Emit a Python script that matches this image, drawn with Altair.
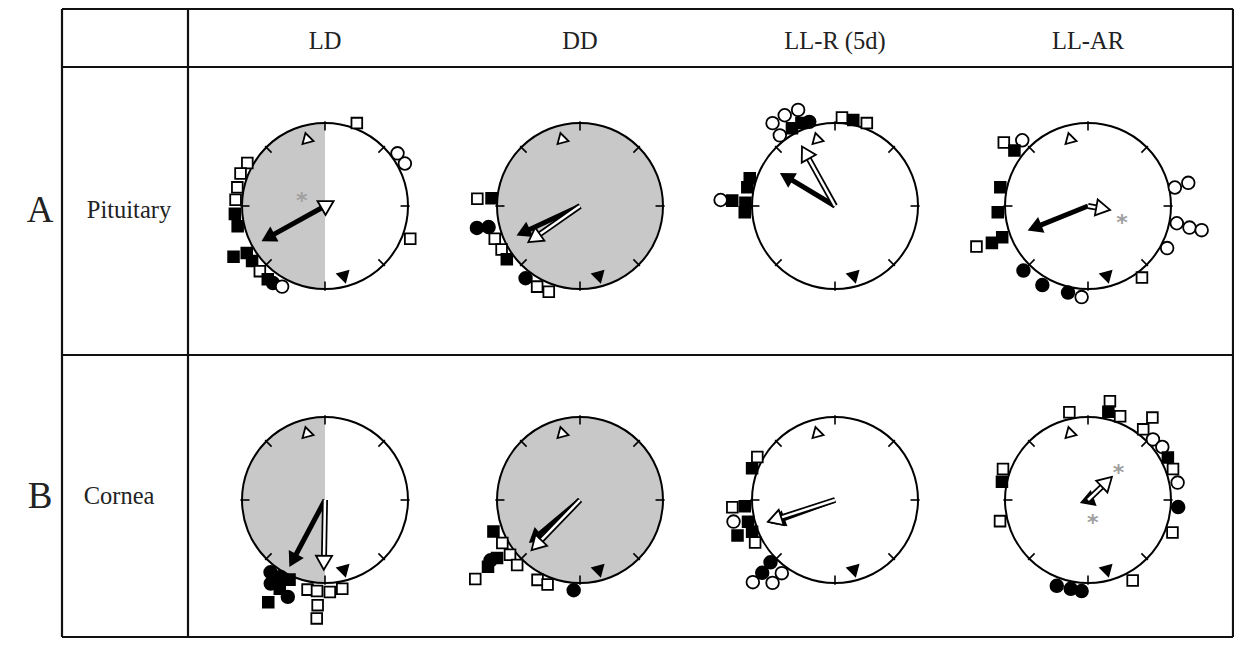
import math
import altair as alt
import pandas as pd

# ---------------- layout constants ----------------
R = 83
COL_X = [325, 580, 835, 1088]
ROW_Y = [206, 500]
conditions = ["LD", "DD", "LL-R (5d)", "LL-AR"]
row_letters = ["A", "B"]
tissues = ["Pituitary", "Cornea"]
shading = ["half", "full", "none", "none"]

# ---------------- data: individual phases (deg clockwise from top, radius fraction, kind) ----------------
A_LD_ang = [21, 54, 62, 111, 299, 291, 282, 274, 265, 257, 241, 239, 233, 225, 218, 214, 208]
A_LD_rad = [1.07, 1.08, 1.09, 1.1, 1.07, 1.09, 1.08, 1.08, 1.09, 1.08, 1.26, 1.1, 1.1, 1.11, 1.12, 1.12, 1.1]
A_LD_kind = ["os", "oc", "oc", "os", "os", "os", "os", "os", "fs", "fs", "fs", "fs", "fs", "os", "fs", "fc", "oc"]

A_DD_ang = [274, 275, 258, 257, 249, 241, 234, 217, 208, 200]
A_DD_rad = [1.24, 1.07, 1.27, 1.13, 1.1, 1.08, 1.09, 1.09, 1.1, 1.1]
A_DD_kind = ["os", "fs", "fc", "fc", "os", "os", "fs", "fc", "os", "os"]

A_LLR_ang = [323, 331, 339, 322, 331, 338, 343, 4.5, 12, 21, 288, 282, 273, 272, 266, 273]
A_LLR_rad = [1.25, 1.25, 1.24, 1.08, 1.07, 1.08, 1.06, 1.07, 1.06, 1.07, 1.08, 1.08, 1.24, 1.08, 1.09, 1.38]
A_LLR_kind = ["oc", "oc", "oc", "oc", "fs", "fs", "fc", "os", "fs", "os", "fs", "fs", "fs", "fs", "fs", "oc"]

A_LLAR_ang = [307, 315, 307, 282, 266, 250, 249, 250, 225, 210, 193, 184, 143, 118, 101, 102, 102, 78, 77]
A_LLAR_rad = [1.27, 1.12, 1.11, 1.08, 1.09, 1.1, 1.24, 1.43, 1.1, 1.1, 1.07, 1.1, 1.08, 1.08, 1.09, 1.25, 1.4, 1.07, 1.24]
A_LLAR_kind = ["os", "oc", "fs", "fs", "fs", "fs", "fs", "os", "fc", "fc", "fc", "oc", "os", "oc", "oc", "oc", "oc", "oc", "oc"]

B_LD_ang = [217, 210, 204, 209, 201, 207, 213, 191, 185, 184, 184, 177, 169]
B_LD_rad = [1.09, 1.07, 1.05, 1.41, 1.25, 1.2, 1.2, 1.1, 1.1, 1.27, 1.43, 1.11, 1.09]
B_LD_kind = ["fc", "fc", "fs", "fs", "fc", "fs", "fc", "os", "os", "os", "os", "os", "os"]

B_DD_ang = [250, 241, 235, 234, 233, 232, 224, 208, 201, 184, 236]
B_DD_rad = [1.11, 1.07, 1.22, 1.37, 1.58, 1.07, 1.09, 1.09, 1.09, 1.09, 1.3]
B_DD_kind = ["fs", "os", "fs", "fs", "os", "os", "os", "os", "os", "fc", "fc"]

B_LLR_ang = [299, 291, 266, 266, 258, 256, 250, 249, 242, 226, 225, 216, 225, 217]
B_LLR_rad = [1.07, 1.07, 1.24, 1.09, 1.25, 1.08, 1.25, 1.07, 1.09, 1.08, 1.24, 1.09, 1.4, 1.25]
B_LLR_kind = ["os", "fs", "os", "fs", "oc", "fs", "fs", "fs", "os", "fc", "fc", "oc", "oc", "oc"]

B_LLAR_ang = [348, 12.5, 13, 21, 38, 38, 47, 54.5, 62, 70, 79, 94.5, 111, 151, 200, 191, 184, 290, 282, 256.5]
B_LLAR_rad = [1.08, 1.22, 1.09, 1.08, 1.26, 1.08, 1.07, 1.1, 1.09, 1.09, 1.1, 1.09, 1.09, 1.11, 1.1, 1.09, 1.1, 1.09, 1.06, 1.09]
B_LLAR_kind = ["os", "os", "fs", "os", "os", "os", "oc", "oc", "fs", "os", "oc", "fc", "os", "os", "fc", "fc", "fc", "os", "fs", "os"]

# mean vectors: (angle deg, length fraction) for filled and open arrows
black_arrow_ang = [241, 245, 301, 248, 208, 230, 250, 250]
black_arrow_len = [0.87, 0.84, 0.77, 0.78, 0.91, 0.80, 0.82, 0.10]
open_arrow_ang = [60, 235, 331, 100, 181, 224, 252, 46]
open_arrow_len = [0.12, 0.76, 0.82, 0.27, 0.84, 0.84, 0.85, 0.40]

# asterisks (panel index, angle, radius)
star_panel = [0, 3, 7, 7]
star_ang = [296, 108, 43, 164]
star_rad = [0.31, 0.43, 0.54, 0.21]

# reference markers (dawn open / dusk filled)
dawn_ang, dawn_rad = 345, 0.85
dusk_ang, dusk_rad = 165, 0.89

tick_angles = [0, 45, 90, 135, 180, 225, 270, 315]

panel_pts = [
    (A_LD_ang, A_LD_rad, A_LD_kind), (A_DD_ang, A_DD_rad, A_DD_kind),
    (A_LLR_ang, A_LLR_rad, A_LLR_kind), (A_LLAR_ang, A_LLAR_rad, A_LLAR_kind),
    (B_LD_ang, B_LD_rad, B_LD_kind), (B_DD_ang, B_DD_rad, B_DD_kind),
    (B_LLR_ang, B_LLR_rad, B_LLR_kind), (B_LLAR_ang, B_LLAR_rad, B_LLAR_kind),
]


def center(p):
    return COL_X[p % 4], ROW_Y[p // 4]


def polar(p, ang, rad):
    cx, cy = center(p)
    t = math.radians(ang)
    return cx + rad * R * math.sin(t), cy - rad * R * math.cos(t)


# ---------------- build tables ----------------
pts = []
for p, (angs, rads, kinds) in enumerate(panel_pts):
    for a, r, k in zip(angs, rads, kinds):
        x, y = polar(p, a, r)
        pts.append({"x": x, "y": y,
                    "shp": "square" if k[1] == "s" else "circle",
                    "fillc": "black" if k[0] == "f" else "white",
                    "sz": 115 if k[1] == "s" else 160})
pts = pd.DataFrame(pts)

centers = pd.DataFrame([{"x": center(p)[0], "y": center(p)[1], "shade": shading[p % 4]} for p in range(8)])

ticks = []
for p in range(8):
    for a in tick_angles:
        x1, y1 = polar(p, a, 1.02)
        x2, y2 = polar(p, a, 0.91)
        ticks.append({"x": x1, "y": y1, "x2": x2, "y2": y2})
ticks = pd.DataFrame(ticks)


def arrows(angs, lens, head_h):
    rows = []
    for p, (a, L) in enumerate(zip(angs, lens)):
        cx, cy = center(p)
        tip = L * R
        hx, hy = polar(p, a, max(tip - head_h, 0) / R)
        rows.append({"x": cx, "y": cy, "x2": hx, "y2": hy, "ang": a % 360})
    return pd.DataFrame(rows)


black_arr = arrows(black_arrow_ang, black_arrow_len, 7)
open_arr = arrows(open_arrow_ang, open_arrow_len, 7)

marks_dawn = pd.DataFrame([dict(zip(["x", "y"], polar(p, dawn_ang, dawn_rad)), ang=dawn_ang) for p in range(8)])
marks_dusk = pd.DataFrame([dict(zip(["x", "y"], polar(p, dusk_ang, dusk_rad)), ang=dusk_ang) for p in range(8)])

stars = pd.DataFrame([dict(zip(["x", "y"], polar(p, a, r))) for p, a, r in zip(star_panel, star_ang, star_rad)])

TL, TR, TT, TB = 62, 1233, 9, 637
table_lines = pd.DataFrame([
    {"x": TL, "y": TT, "x2": TR, "y2": TT},
    {"x": TL, "y": 67, "x2": TR, "y2": 67},
    {"x": TL, "y": 355, "x2": TR, "y2": 355},
    {"x": TL, "y": TB, "x2": TR, "y2": TB},
    {"x": TL, "y": TT, "x2": TL, "y2": TB},
    {"x": 188, "y": TT, "x2": 188, "y2": TB},
    {"x": TR, "y": TT, "x2": TR, "y2": TB},
])

headers = pd.DataFrame({"x": COL_X, "y": [42] * 4, "t": conditions})
tissue_df = pd.DataFrame({"x": [129, 119], "y": [211, 497], "t": tissues})
letter_df = pd.DataFrame({"x": [40, 40], "y": [211, 497], "t": row_letters})

# ---------------- chart ----------------
X = alt.X("x:Q", scale=alt.Scale(domain=[8, 1234]), axis=None)
Y = alt.Y("y:Q", scale=alt.Scale(domain=[638, 8]), axis=None)
X2 = alt.X2("x2:Q")
Y2 = alt.Y2("y2:Q")
XH = alt.X("x2:Q", scale=alt.Scale(domain=[8, 1234]), axis=None)
YH = alt.Y("y2:Q", scale=alt.Scale(domain=[638, 8]), axis=None)
GREY = "#c8c8c8"

half = alt.Chart(centers).transform_filter("datum.shade == 'half'").mark_arc(
    radius=R, theta=math.pi, theta2=2 * math.pi, color=GREY).encode(x=X, y=Y)
full = alt.Chart(centers).transform_filter("datum.shade == 'full'").mark_arc(
    radius=R, theta=0, theta2=2 * math.pi, color=GREY).encode(x=X, y=Y)
outline = alt.Chart(centers).mark_point(
    shape="circle", size=(2 * R) ** 2, filled=False, color="black", strokeWidth=2, opacity=1).encode(x=X, y=Y)
tick_layer = alt.Chart(ticks).mark_rule(color="black", strokeWidth=1.6).encode(x=X, y=Y, x2=X2, y2=Y2)
table = alt.Chart(table_lines).mark_rule(color="#111", strokeWidth=2.2).encode(x=X, y=Y, x2=X2, y2=Y2)

dawn = alt.Chart(marks_dawn).mark_point(shape="triangle-up", size=130, filled=True, fill="white",
                                        stroke="black", strokeWidth=1.8, opacity=1).encode(
    x=X, y=Y, angle=alt.Angle("ang:Q", scale=None))
dusk = alt.Chart(marks_dusk).mark_point(shape="triangle-up", size=140, filled=True, fill="black",
                                        stroke="black", strokeWidth=1.5, opacity=1).encode(
    x=X, y=Y, angle=alt.Angle("ang:Q", scale=None))

b_shaft = alt.Chart(black_arr).mark_rule(color="black", strokeWidth=5).encode(x=X, y=Y, x2=X2, y2=Y2)
b_head = alt.Chart(black_arr).mark_point(shape="triangle-up", size=290, filled=True, color="black", opacity=1).encode(
    x=XH, y=YH, angle=alt.Angle("ang:Q", scale=None))
o_shaft_out = alt.Chart(open_arr).mark_rule(color="black", strokeWidth=6).encode(x=X, y=Y, x2=X2, y2=Y2)
o_shaft_in = alt.Chart(open_arr).mark_rule(color="white", strokeWidth=2.5).encode(x=X, y=Y, x2=X2, y2=Y2)
o_head = alt.Chart(open_arr).mark_point(shape="triangle-up", size=260, filled=True, fill="white",
                                        stroke="black", strokeWidth=1.8, opacity=1).encode(
    x=XH, y=YH, angle=alt.Angle("ang:Q", scale=None))

points = alt.Chart(pts).mark_point(filled=True, stroke="black", strokeWidth=1.8, opacity=1).encode(
    x=X, y=Y,
    shape=alt.Shape("shp:N", scale=None),
    fill=alt.Fill("fillc:N", scale=None),
    size=alt.Size("sz:Q", scale=None))

star_layer = alt.Chart(stars).mark_text(text="*", fontSize=22, color="#a0a0a0", font="DejaVu Sans",
                                        fontWeight="bold", dy=6).encode(x=X, y=Y)

header_txt = alt.Chart(headers).mark_text(font="Liberation Serif", fontSize=24.5, color="#222").encode(
    x=X, y=Y, text="t:N")
tissue_txt = alt.Chart(tissue_df).mark_text(font="Liberation Serif", fontSize=24.5, color="#222").encode(
    x=X, y=Y, text="t:N")
letter_txt = alt.Chart(letter_df).mark_text(font="Liberation Serif", fontSize=37, color="#222").encode(
    x=X, y=Y, text="t:N")

chart = alt.layer(
    half, full, outline, tick_layer, table, dawn, dusk,
    b_shaft, b_head, o_shaft_out, o_shaft_in, o_head,
    points, star_layer, header_txt, tissue_txt, letter_txt,
).properties(
    width=1226, height=630, autosize=alt.AutoSizeParams(type="none"), padding=0
).configure_view(stroke=None)

chart.save("out.html", embed_options={"renderer": "svg", "actions": False})
